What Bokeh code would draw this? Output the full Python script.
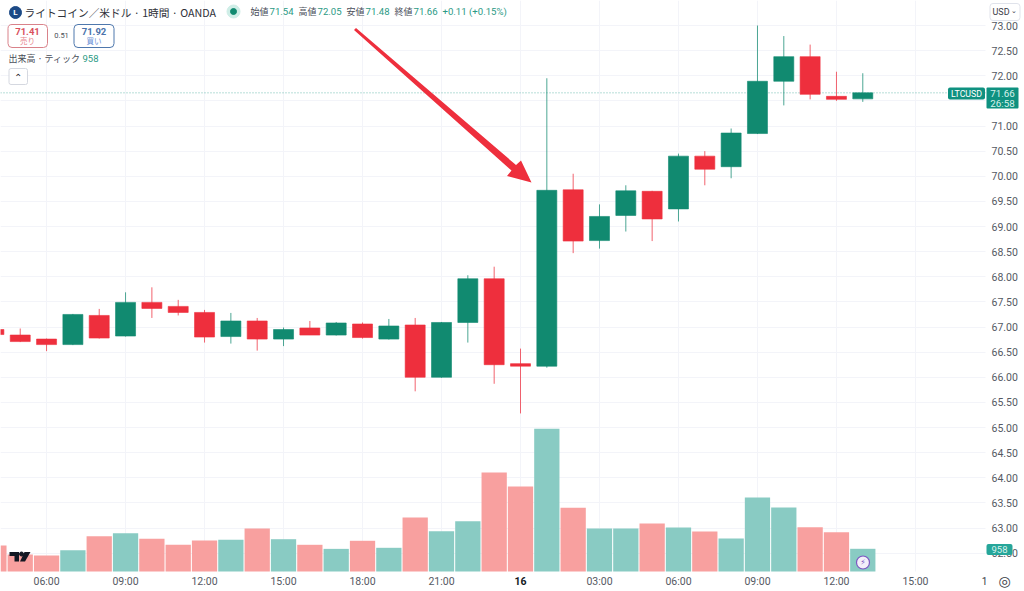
from bokeh.plotting import figure
from bokeh.embed import file_html
from bokeh.resources import INLINE
from bokeh.models import Range1d, Label, BoxAnnotation, FixedTicker, NumeralTickFormatter

# ---- data -----------------------------------------------------------------
hours = list(range(-20, 14))
opens = [66.95, 66.84, 66.76, 66.65, 67.23, 66.82, 67.49, 67.41, 67.29, 66.81, 67.12, 66.76, 66.98, 66.84, 67.06, 66.76, 67.04,
         66.00, 67.09, 67.96, 66.27, 66.22, 69.73, 68.72, 69.22, 69.70, 69.35, 70.40, 70.19, 70.85, 71.89, 72.38, 71.59, 71.54]
highs = [66.97, 66.97, 66.77, 67.26, 67.36, 67.69, 67.79, 67.54, 67.34, 67.28, 67.18, 66.99, 67.12, 67.10, 67.09, 67.16, 67.18,
         67.10, 68.03, 68.20, 66.57, 71.95, 70.05, 69.44, 69.82, 69.71, 70.45, 70.50, 70.95, 73.00, 72.79, 72.62, 72.08, 72.05]
lows = [66.80, 66.70, 66.52, 66.64, 66.77, 66.81, 67.18, 67.23, 66.69, 66.67, 66.53, 66.62, 66.84, 66.83, 66.77, 66.75, 65.72,
        65.99, 66.69, 65.87, 65.28, 66.19, 68.47, 68.56, 68.90, 68.71, 69.10, 69.82, 69.96, 70.84, 71.41, 71.53, 71.50, 71.48]
closes = [66.85, 66.71, 66.65, 67.25, 66.78, 67.49, 67.37, 67.29, 66.80, 67.12, 66.76, 66.95, 66.84, 67.08, 66.79, 67.02, 66.00,
          67.09, 67.96, 66.25, 66.22, 69.72, 68.71, 69.20, 69.71, 69.15, 70.40, 70.14, 70.86, 71.89, 72.38, 71.63, 71.53, 71.66]
volumes = [1097, 717, 675, 899, 1490, 1616, 1380, 1127, 1308, 1338, 1815, 1363, 1127, 955, 1296, 1000, 2279,
           1701, 2123, 4178, 3587, 6022, 2688, 1815, 1815, 2026, 1857, 1688, 1393, 3123, 2701, 1869, 1658, 958]
price_ticks = [62.5 + 0.5 * i for i in range(22)]
time_ticks = [-18, -15, -12, -9, -6, -3, 0, 3, 6, 9, 12, 15]
time_labels = ["06:00", "09:00", "12:00", "15:00", "18:00", "21:00", " ", "03:00", "06:00", "09:00", "12:00", "15:00"]
last_price = 71.66

GREEN, RED = "#118a70", "#ee2f3d"
VGREEN, VRED = "#89cbc3", "#f8a09f"
TEAL = "#0f9180"
JP = "Noto Sans CJK JP"
LAT = "Roboto"
DJ = "DejaVu Sans"

# ---- the frame fills the page; axes are pinned at page px 985 and 571 --------
PXH, PXP, PXV = 26.33, 50.25, 42.2   # px per hour, per 1.00 of price; volume per px
def X(px): return (px - 520) / PXH
def Y(py): return 73 - (py - 25) / PXP

p = figure(width=1024, height=591, x_range=Range1d(X(0), X(1024)), y_range=Range1d(Y(591), Y(0)),
           output_backend="svg", toolbar_location=None, min_border_left=0, min_border_right=0,
           min_border_top=0, min_border_bottom=0, y_axis_location="right",
           background_fill_color="white", border_fill_color="white", outline_line_color=None)
p.extra_y_ranges = {"vol": Range1d(-(591 - 571) * PXV, 571 * PXV)}

p.xaxis.ticker = FixedTicker(ticks=time_ticks)
p.xaxis.major_label_overrides = dict(zip(time_ticks, time_labels))
p.yaxis.ticker = FixedTicker(ticks=price_ticks)
p.yaxis.formatter = NumeralTickFormatter(format="0.00")
p.xaxis.fixed_location = Y(571)
p.yaxis.fixed_location = X(985)
for ax in (p.xaxis[0], p.yaxis[0]):
    ax.axis_line_color = None
    ax.major_tick_line_color = None
    ax.minor_tick_line_color = None
    ax.major_tick_out = 0
    ax.major_tick_in = 0
    ax.minor_tick_out = 0
    ax.minor_tick_in = 0
    ax.major_label_text_font = LAT
    ax.major_label_text_font_size = "10.5px"
    ax.major_label_text_color = "#555963"
p.xaxis.major_label_standoff = 3
p.yaxis.major_label_standoff = 6
p.xgrid.ticker = FixedTicker(ticks=time_ticks)
p.ygrid.ticker = FixedTicker(ticks=price_ticks)
p.grid.grid_line_color = "#f3f4f9"
p.grid.grid_line_width = 1

# white strips that hide the grid under the axis rows
for l, r, t, b in [(985, 1024, 0, 591), (0, 1024, 571, 591)]:
    p.add_layout(BoxAnnotation(left=X(l), right=X(r), top=Y(t), bottom=Y(b), fill_color="white", fill_alpha=1,
                               line_alpha=0, level="underlay"))

up = [c >= o for o, c in zip(opens, closes)]
body_col = [GREEN if u else RED for u in up]
vol_col = [VGREEN if u else VRED for u in up]
tops = [max(o, c) for o, c in zip(opens, closes)]
bots = [min(o, c) for o, c in zip(opens, closes)]

p.vbar(x=hours, top=volumes, bottom=0, width=0.96, color=vol_col, line_width=0, y_range_name="vol")
p.line([X(0), X(985)], [last_price, last_price], line_color=TEAL, line_width=1, line_dash="1 2", line_alpha=0.6)
p.segment(x0=hours, x1=hours, y0=lows, y1=highs, color=body_col, line_width=1, line_alpha=0.75)
p.vbar(x=hours, top=tops, bottom=bots, width=0.76, fill_color=body_col, line_color=body_col, line_width=0.6)

def label(px, py, text, size=10, color="#3a3d47", font=LAT, align="left", weight="normal"):
    p.add_layout(Label(x=X(px), y=Y(py), text=text, text_font_size=f"{size}px", text_color=color,
                       text_font=font, text_align=align, text_baseline="middle", text_font_style=weight))

def box(l, r, t, b, fill="white", line=None, radius=0, width=1, falpha=1.0):
    p.add_layout(BoxAnnotation(left=X(l), right=X(r), top=Y(t), bottom=Y(b), fill_color=fill, fill_alpha=falpha,
                               line_color=line, line_alpha=1 if line else 0, line_width=width, border_radius=radius,
                               level="annotation"))

def poly(pts, color):
    p.patch([X(a) for a, _ in pts], [Y(b) for _, b in pts], color=color, line_width=0)

# red pointer arrow
poly([(353.5, 29.5), (355.5, 27.5), (515.5, 164.5), (520.5, 160), (531, 182), (506.5, 175.5), (511, 170)], RED)

# TradingView mark, bottom left
poly([(9, 551.5), (18.5, 551.5), (18.5, 561), (14, 561), (14, 555.5), (9, 555.5)], "#131722")
poly([(24, 551.5), (30, 551.5), (24.5, 561), (19.5, 561)], "#131722")
p.scatter([X(21)], [Y(553.5)], size=4, color="#131722")

# lightning badge
p.scatter([X(862.5)], [Y(562)], size=13, fill_color="#f4effa", line_color="#7e57c2", line_width=1.2)
label(862.5, 562, "⚡", size=8, color="#7e57c2", font=DJ, align="center")

# header
p.scatter([X(15)], [Y(12)], size=12, color="#1c4a86")
label(15, 12, "L", size=8, color="white", align="center", weight="bold")
label(24, 12, "ライトコイン／米ドル · 1時間 · OANDA", size=10.7, color="#2e3038", font=JP)
p.scatter([X(233)], [Y(11)], size=13, color="#cfeee7")
p.scatter([X(233)], [Y(11)], size=6, color=GREEN)
for px, name, val in [(250, "始値", "71.54"), (298, "高値", "72.05"), (346, "安値", "71.48"), (394, "終値", "71.66")]:
    label(px, 11, name, size=9, color="#4a4e59", font=JP)
    label(px + 19, 11, val, size=9.6, color="#2b9a85")
label(442, 11, "+0.11 (+0.15%)", size=9.6, color="#2b9a85")

box(7.5, 47, 24, 47, line="#d9828a", radius=4)
label(27, 31, "71.41", size=9.5, color="#d9505c", align="center", weight="bold")
label(27, 40, "売り", size=7.5, color="#e77f88", font=JP, align="center")
label(61, 35, "0.51", size=7.5, color="#4a4e59", align="center")
box(73.5, 113.5, 24, 47, line="#4f78ad", radius=4)
label(93.5, 31, "71.92", size=9.5, color="#4a72ab", align="center", weight="bold")
label(93.5, 40, "買い", size=7.5, color="#6b8fd6", font=JP, align="center")
label(8, 58, "出来高 · ティック", size=9, color="#4a4e59", font=JP)
label(82, 58, "958", size=9.5, color="#2b9a85")
box(8.5, 27, 68, 84, line="#d5d8e0", radius=2)
label(17.8, 77, "⌃", size=10, color="#2e3038", font=DJ, align="center")

# right hand tags
box(989.5, 1019.5, 3, 20, line="#e0e3eb", radius=3)
label(992, 11, "USD", size=9, color="#3a3d47")
label(1013.5, 10, "⌄", size=7, color="#3a3d47", font=DJ, align="center")
box(947.5, 984.5, 87, 99, fill=TEAL, radius=2)
label(966, 93, "LTCUSD", size=8.8, color="white", align="center")
box(986, 1018, 87, 108, fill=TEAL, radius=1)
label(1002, 93, "71.66", size=9.8, color="#d8f2ec", align="center")
label(1002, 103, "26:58", size=9.8, color="#d8f2ec", align="center")
box(986, 1012, 543.5, 554.5, fill="#26a69a", radius=2)
label(999, 549, "958", size=9.5, color="#d8f2ec", align="center")

# axis row extras
label(520, 580, "16", size=10.5, color="#131722", align="center", weight="bold")
label(984, 580, "1", size=10, color="#3a3d47", align="center")
label(1004, 580, "◎", size=14, color="#3a3d47", font=DJ, align="center")

open("out.html", "w").write(file_html(p, INLINE))
